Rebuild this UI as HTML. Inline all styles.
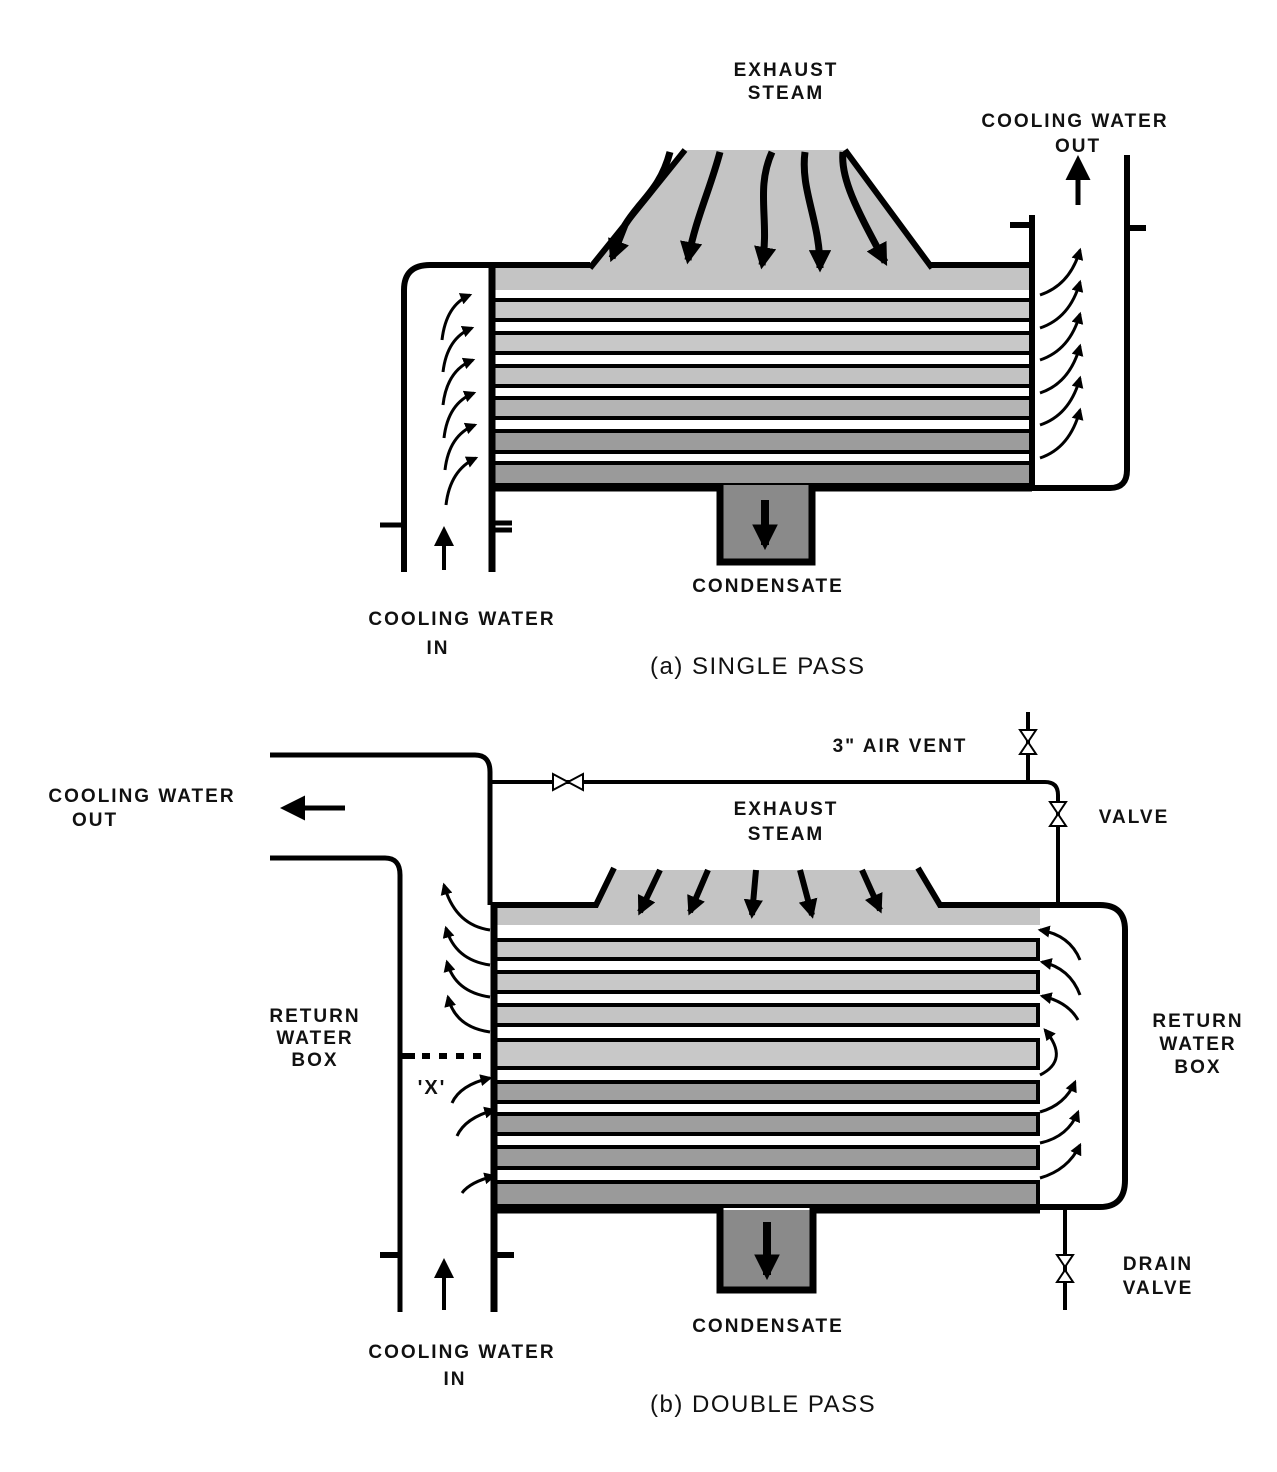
<!DOCTYPE html>
<html><head><meta charset="utf-8"><style>
html,body{margin:0;padding:0;background:#fff;}
svg{display:block;}
text{font-family:"Liberation Sans",sans-serif;font-weight:bold;fill:#111;letter-spacing:2px;}
</style></head><body>
<svg width="1277" height="1472" viewBox="0 0 1277 1472" xmlns="http://www.w3.org/2000/svg">
<defs>
<marker id="ah" viewBox="0 0 10 10" refX="8" refY="5" markerWidth="5" markerHeight="5" orient="auto"><path d="M0,0 L10,5 L0,10 z" fill="#000"/></marker>
<marker id="ahs" viewBox="0 0 10 10" refX="8" refY="5" markerWidth="3.2" markerHeight="3.2" orient="auto"><path d="M0,0 L10,5 L0,10 z" fill="#000"/></marker>
<marker id="ahb" viewBox="0 0 10 10" refX="8" refY="5" markerWidth="4" markerHeight="4" orient="auto"><path d="M0,0 L10,5 L0,10 z" fill="#000"/></marker>
</defs>
<rect width="1277" height="1472" fill="#fff"/>

<!-- ===== (a) SINGLE PASS ===== -->
<text x="786" y="76" font-size="19" text-anchor="middle">EXHAUST</text>
<text x="786" y="99" font-size="19" text-anchor="middle">STEAM</text>
<text x="1075" y="127" font-size="19" text-anchor="middle">COOLING WATER</text>
<text x="1078" y="152" font-size="19" text-anchor="middle">OUT</text>

<path d="M592,265 L685,150 L845,150 L930,265 L1032,265 L1032,290 L492,290 L492,265 Z" fill="#c4c4c4"/>
<path d="M590,268 L685,150 M845,150 L932,268" stroke="#000" stroke-width="6" fill="none"/>
<path d="M492,265 L590,265 M930,265 L1032,265" stroke="#000" stroke-width="6" fill="none"/>
<g stroke="#000" stroke-width="7" fill="none" marker-end="url(#ahs)">
<path d="M670,152 C660,190 640,200 625,225 L612,258"/>
<path d="M720,152 C710,190 695,220 688,260"/>
<path d="M772,152 C755,190 770,220 762,265"/>
<path d="M805,152 C800,190 820,220 820,268"/>
<path d="M843,152 C840,180 860,215 885,262"/>
</g>
<g stroke="#000" stroke-width="4">
<rect x="492" y="300" width="540" height="20" fill="#c8c8c8"/>
<rect x="492" y="333" width="540" height="20" fill="#c8c8c8"/>
<rect x="492" y="366" width="540" height="20" fill="#c2c2c2"/>
<rect x="492" y="398" width="540" height="20" fill="#b4b4b4"/>
<rect x="492" y="431" width="540" height="21" fill="#9c9c9c"/>
<rect x="492" y="463" width="540" height="22" fill="#9a9a9a"/>
</g>
<rect x="720" y="485" width="92" height="76" fill="#8a8a8a"/>
<path d="M492,262 L492,572 M492,488 L720,488 L720,562 L812,562 L812,488 L1032,488" stroke="#000" stroke-width="7" fill="none"/>
<path d="M765,500 L765,545" stroke="#000" stroke-width="8" marker-end="url(#ahs)"/>
<path d="M404,572 L404,290 Q404,265 430,265 L492,265" stroke="#000" stroke-width="6" fill="none"/>
<path d="M380,525 L404,525 M492,523 L512,523 M492,530 L512,530" stroke="#000" stroke-width="5"/>
<path d="M444,570 L444,530" stroke="#000" stroke-width="4" marker-end="url(#ah)"/>
<g stroke="#000" stroke-width="3" fill="none" marker-end="url(#ahb)">
<path d="M442,340 Q446,305 470,295"/>
<path d="M443,372 Q447,338 472,328"/>
<path d="M443,405 Q447,370 473,360"/>
<path d="M444,438 Q448,403 474,393"/>
<path d="M445,470 Q449,435 475,425"/>
<path d="M446,505 Q450,470 476,458"/>
</g>
<path d="M1032,215 L1032,488 L1110,488 Q1127,488 1127,470 L1127,155" stroke="#000" stroke-width="6" fill="none"/>
<path d="M1010,225 L1032,225 M1127,228 L1146,228" stroke="#000" stroke-width="6"/>
<path d="M1078,205 L1078,160" stroke="#000" stroke-width="5" marker-end="url(#ah)"/>
<g stroke="#000" stroke-width="3" fill="none" marker-end="url(#ahb)">
<path d="M1040,295 Q1070,285 1080,250"/>
<path d="M1040,328 Q1070,318 1080,282"/>
<path d="M1040,360 Q1070,350 1080,314"/>
<path d="M1040,393 Q1070,383 1080,346"/>
<path d="M1040,425 Q1070,415 1080,378"/>
<path d="M1040,458 Q1070,448 1080,410"/>
</g>
<text x="768" y="592" font-size="19" text-anchor="middle">CONDENSATE</text>
<text x="462" y="625" font-size="19" text-anchor="middle">COOLING WATER</text>
<text x="438" y="654" font-size="19" text-anchor="middle">IN</text>
<text x="650" y="674" font-size="24" style="font-weight:normal;letter-spacing:1.5px">(a) SINGLE PASS</text>

<!-- ===== (b) DOUBLE PASS ===== -->
<text x="900" y="752" font-size="19" text-anchor="middle">3" AIR VENT</text>
<text x="1134" y="823" font-size="19" text-anchor="middle">VALVE</text>
<text x="142" y="802" font-size="19" text-anchor="middle">COOLING WATER</text>
<text x="95" y="826" font-size="19" text-anchor="middle">OUT</text>
<text x="786" y="815" font-size="19" text-anchor="middle">EXHAUST</text>
<text x="786" y="840" font-size="19" text-anchor="middle">STEAM</text>
<text x="315" y="1022" font-size="19" text-anchor="middle">RETURN</text>
<text x="315" y="1044" font-size="19" text-anchor="middle">WATER</text>
<text x="315" y="1066" font-size="19" text-anchor="middle">BOX</text>
<text x="1198" y="1027" font-size="19" text-anchor="middle">RETURN</text>
<text x="1198" y="1050" font-size="19" text-anchor="middle">WATER</text>
<text x="1198" y="1073" font-size="19" text-anchor="middle">BOX</text>
<text x="432" y="1094" font-size="20" text-anchor="middle">'X'</text>

<path d="M270,755 L475,755 Q490,755 490,772 L490,905" stroke="#000" stroke-width="5" fill="none"/>
<path d="M490,782 L1045,782 Q1058,782 1058,795 L1058,905" stroke="#000" stroke-width="4" fill="none"/>
<path d="M1028,782 L1028,712" stroke="#000" stroke-width="4"/>
<path d="M553,774 L553,790 L568,782 Z M583,774 L583,790 L568,782 Z" fill="#fff" stroke="#000" stroke-width="2"/>
<path d="M1020,730 L1036,730 L1028,742 Z M1020,754 L1036,754 L1028,742 Z" fill="#fff" stroke="#000" stroke-width="2"/>
<path d="M1050,802 L1066,802 L1058,814 Z M1050,826 L1066,826 L1058,814 Z" fill="#fff" stroke="#000" stroke-width="2"/>
<path d="M345,808 L285,808" stroke="#000" stroke-width="5" marker-end="url(#ah)"/>
<path d="M270,858 L385,858 Q400,858 400,875 L400,1312" stroke="#000" stroke-width="5" fill="none"/>
<path d="M400,1056 L415,1056" stroke="#000" stroke-width="6"/>
<path d="M422,1056 L490,1056" stroke="#000" stroke-width="6" stroke-dasharray="8,9"/>
<path d="M596,905 L612,870 L920,870 L940,905 L1040,905 L1040,925 L492,925 L492,905 Z" fill="#c4c4c4"/>
<path d="M492,905 L596,905 L614,868 M918,868 L940,905 L1040,905" stroke="#000" stroke-width="6" fill="none"/>
<g stroke="#000" stroke-width="6" fill="none" marker-end="url(#ahs)">
<path d="M660,870 L640,912"/>
<path d="M708,870 L690,912"/>
<path d="M756,870 L752,915"/>
<path d="M800,870 L812,915"/>
<path d="M862,870 L880,910"/>
</g>
<g stroke="#000" stroke-width="4">
<rect x="494" y="940" width="544" height="19" fill="#c8c8c8"/>
<rect x="494" y="972" width="544" height="20" fill="#c8c8c8"/>
<rect x="494" y="1005" width="544" height="20" fill="#c4c4c4"/>
<rect x="494" y="1040" width="544" height="28" fill="#c8c8c8"/>
<rect x="494" y="1082" width="544" height="20" fill="#a0a0a0"/>
<rect x="494" y="1114" width="544" height="20" fill="#9e9e9e"/>
<rect x="494" y="1147" width="544" height="21" fill="#9c9c9c"/>
<rect x="494" y="1182" width="544" height="24" fill="#9a9a9a"/>
</g>
<rect x="720" y="1210" width="93" height="80" fill="#8a8a8a"/>
<path d="M494,905 L494,1312 M494,1210 L720,1210 L720,1290 L813,1290 L813,1210 L1040,1210" stroke="#000" stroke-width="7" fill="none"/>
<path d="M767,1222 L767,1275" stroke="#000" stroke-width="8" marker-end="url(#ahs)"/>
<path d="M380,1255 L400,1255 M494,1255 L514,1255" stroke="#000" stroke-width="6"/>
<path d="M444,1310 L444,1262" stroke="#000" stroke-width="4" marker-end="url(#ah)"/>
<path d="M1040,905 L1100,905 Q1125,905 1125,930 L1125,1180 Q1125,1207 1100,1207 L1040,1207" stroke="#000" stroke-width="6" fill="none"/>
<path d="M1065,1207 L1065,1310" stroke="#000" stroke-width="4"/>
<path d="M1057,1255 L1073,1255 L1065,1267 Z M1057,1282 L1073,1282 L1065,1270 Z" fill="#fff" stroke="#000" stroke-width="2"/>
<text x="1158" y="1270" font-size="19" text-anchor="middle">DRAIN</text>
<text x="1158" y="1294" font-size="19" text-anchor="middle">VALVE</text>
<g stroke="#000" stroke-width="3" fill="none" marker-end="url(#ahb)">
<path d="M490,930 Q455,925 444,885"/>
<path d="M490,965 Q455,960 446,928"/>
<path d="M490,997 Q455,992 447,962"/>
<path d="M490,1032 Q455,1027 448,997"/>
<path d="M452,1103 Q460,1085 490,1078"/>
<path d="M457,1136 Q465,1118 494,1110"/>
<path d="M462,1193 Q470,1182 494,1176"/>
</g>
<g stroke="#000" stroke-width="3" fill="none" marker-end="url(#ahb)">
<path d="M1080,960 Q1070,935 1040,930"/>
<path d="M1080,995 Q1070,968 1042,962"/>
<path d="M1078,1020 Q1068,1002 1042,996"/>
<path d="M1040,1075 Q1070,1060 1045,1030"/>
<path d="M1040,1112 Q1065,1105 1075,1082"/>
<path d="M1040,1143 Q1068,1137 1078,1112"/>
<path d="M1040,1178 Q1068,1170 1080,1145"/>
</g>
<text x="768" y="1332" font-size="19" text-anchor="middle">CONDENSATE</text>
<text x="462" y="1358" font-size="19" text-anchor="middle">COOLING WATER</text>
<text x="455" y="1385" font-size="19" text-anchor="middle">IN</text>
<text x="650" y="1412" font-size="24" style="font-weight:normal;letter-spacing:1.5px">(b) DOUBLE PASS</text>
</svg>
</body></html>
